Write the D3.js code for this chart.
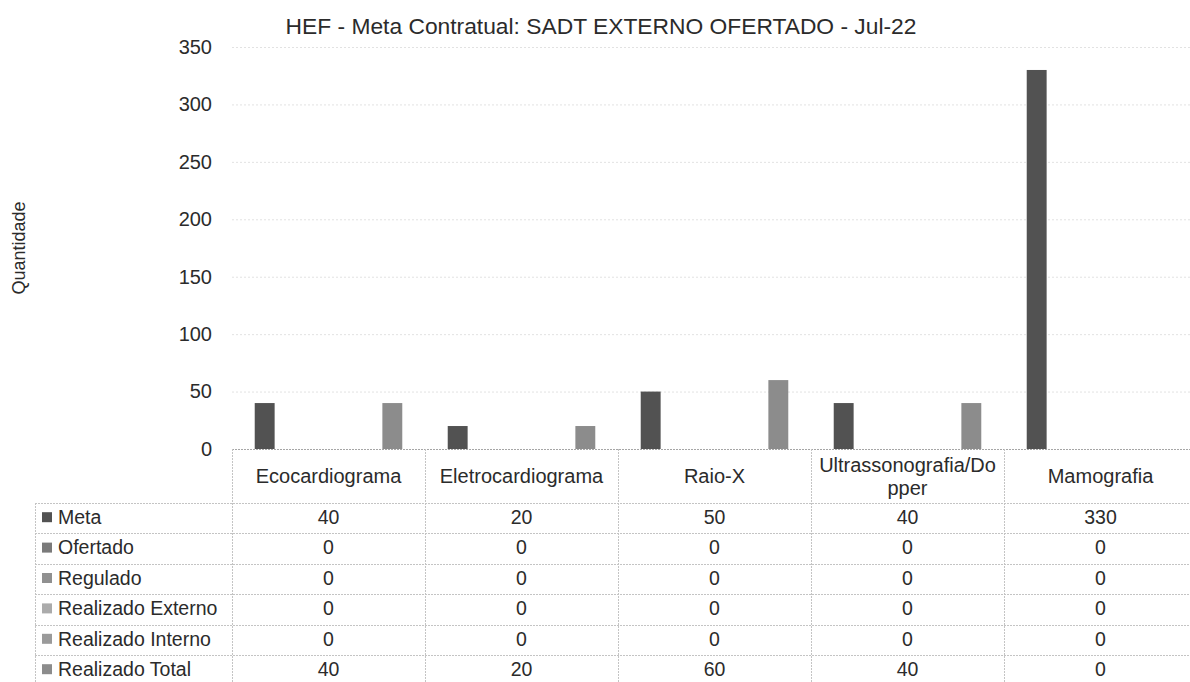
<!DOCTYPE html>
<html>
<head>
  <meta charset="UTF-8" />
  <script src="https://d3js.org/d3.v7.min.js"></script>
  <style>
    body { margin: 0; background: #fff; }
    text { font-family: "Liberation Sans", Arial, sans-serif; fill: #2b2b2b; }
  </style>
</head>
<body>
  <script>
    // chart data
    var categories = ["Ecocardiograma", "Eletrocardiograma", "Raio-X", "Ultrassonografia/Dopper", "Mamografia"];
    var categoryLines = [["Ecocardiograma"], ["Eletrocardiograma"], ["Raio-X"], ["Ultrassonografia/Do", "pper"], ["Mamografia"]];
    var seriesNames = ["Meta", "Ofertado", "Regulado", "Realizado Externo", "Realizado Interno", "Realizado Total"];
    var meta = [40, 20, 50, 40, 330];
    var ofertado = [0, 0, 0, 0, 0];
    var regulado = [0, 0, 0, 0, 0];
    var realizadoExterno = [0, 0, 0, 0, 0];
    var realizadoInterno = [0, 0, 0, 0, 0];
    var realizadoTotal = [40, 20, 60, 40, 0];
    var yTicks = [0, 50, 100, 150, 200, 250, 300, 350];

    var seriesValues = [meta, ofertado, regulado, realizadoExterno, realizadoInterno, realizadoTotal];
    var seriesColors = ["#525252", "#7a7a7a", "#909090", "#ababab", "#9a9a9a", "#8c8c8c"];

    var width = 1190, height = 682;
    var plotLeft = 232, colW = 193, plotTop = 47, baseY = 449;
    var headerH = 54, rowH = 30.4, tableLeft = 35;

    var svg = d3.select("body").append("svg")
      .attr("width", width)
      .attr("height", height);

    var x = d3.scaleBand()
      .domain(categories)
      .range([plotLeft, plotLeft + colW * categories.length]);

    var xs = d3.scaleBand()
      .domain(seriesNames)
      .range([0, colW])
      .paddingInner(0.22)
      .paddingOuter(0.89);

    var y = d3.scaleLinear()
      .domain([0, 350])
      .range([baseY, plotTop]);

    // gridlines (very faint in the scan)
    svg.append("g")
      .selectAll("line")
      .data(yTicks.slice(1))
      .enter().append("line")
      .attr("x1", plotLeft)
      .attr("x2", width)
      .attr("y1", function (d) { return y(d) + 0.5; })
      .attr("y2", function (d) { return y(d) + 0.5; })
      .attr("stroke", "#e2e2e2")
      .attr("stroke-dasharray", "2,2");

    // y axis labels
    var yAxis = d3.axisLeft(y).tickValues(yTicks).tickSize(0).tickPadding(20);
    var gy = svg.append("g")
      .attr("transform", "translate(" + plotLeft + ",0)")
      .call(yAxis);
    gy.select(".domain").remove();
    gy.selectAll("text")
      .style("font-size", "20px")
      .style("font-family", "'Liberation Sans', Arial, sans-serif")
      .attr("fill", "#2b2b2b");

    // bars
    var groups = svg.append("g")
      .selectAll("g")
      .data(categories)
      .enter().append("g")
      .attr("transform", function (d) { return "translate(" + x(d) + ",0)"; });

    groups.selectAll("rect")
      .data(function (d, i) {
        return seriesNames.map(function (s, j) {
          return { s: s, v: seriesValues[j][i], c: seriesColors[j] };
        });
      })
      .enter().append("rect")
      .attr("x", function (d) { return xs(d.s); })
      .attr("width", xs.bandwidth())
      .attr("y", function (d) { return y(d.v); })
      .attr("height", function (d) { return baseY - y(d.v); })
      .attr("fill", function (d) { return d.c; });

    // table borders
    var tableBottom = baseY + headerH + rowH * seriesNames.length;
    var right = plotLeft + colW * categories.length;
    var border = svg.append("g")
      .attr("stroke", "#c4c4c4")
      .attr("stroke-dasharray", "2,1")
      .attr("fill", "none");

    border.append("line")
      .attr("x1", plotLeft).attr("x2", right)
      .attr("y1", baseY + 0.5).attr("y2", baseY + 0.5)
      .attr("stroke", "#a6a6a6");

    for (var r = 0; r <= seriesNames.length; r++) {
      var ry = Math.round(baseY + headerH + r * rowH) + 0.5;
      border.append("line")
        .attr("x1", tableLeft).attr("x2", right)
        .attr("y1", ry).attr("y2", ry);
    }
    border.append("line")
      .attr("x1", tableLeft + 0.5).attr("x2", tableLeft + 0.5)
      .attr("y1", baseY + headerH).attr("y2", tableBottom);
    categories.concat(["end"]).forEach(function (c, i) {
      var vx = plotLeft + i * colW + 0.5;
      border.append("line")
        .attr("x1", vx).attr("x2", vx)
        .attr("y1", baseY).attr("y2", tableBottom);
    });

    // category headers
    var header = svg.append("g");
    categories.forEach(function (c, i) {
      var lines = categoryLines[i];
      var cx = x(c) + x.bandwidth() / 2;
      var cy = baseY + headerH / 2;
      lines.forEach(function (t, k) {
        header.append("text")
          .attr("x", cx)
          .attr("y", cy + (k - (lines.length - 1) / 2) * 23)
          .attr("dy", "0.35em")
          .attr("text-anchor", "middle")
          .style("font-size", "20px")
          .text(t);
      });
    });

    // rows
    var rows = svg.append("g")
      .selectAll("g")
      .data(seriesNames)
      .enter().append("g")
      .attr("transform", function (d, i) {
        return "translate(0," + (baseY + headerH + i * rowH + rowH / 2 - 1) + ")";
      });

    rows.append("rect")
      .attr("x", 42)
      .attr("y", -5)
      .attr("width", 10)
      .attr("height", 10)
      .attr("fill", function (d, i) { return seriesColors[i]; });

    rows.append("text")
      .attr("x", 58)
      .attr("dy", "0.35em")
      .style("font-size", "19.5px")
      .text(function (d) { return d; });

    rows.each(function (s, j) {
      d3.select(this).selectAll("text.val")
        .data(seriesValues[j])
        .enter().append("text")
        .attr("class", "val")
        .attr("x", function (d, i) { return x(categories[i]) + x.bandwidth() / 2; })
        .attr("dy", "0.35em")
        .attr("text-anchor", "middle")
        .style("font-size", "19.5px")
        .text(function (d) { return d; });
    });

    // title
    svg.append("text")
      .attr("x", 601)
      .attr("y", 34)
      .attr("text-anchor", "middle")
      .style("font-size", "22.8px")
      .text("HEF - Meta Contratual: SADT EXTERNO OFERTADO - Jul-22");

    // y axis title
    svg.append("text")
      .attr("transform", "translate(25," + ((plotTop + baseY) / 2) + ") rotate(-90)")
      .attr("text-anchor", "middle")
      .style("font-size", "18px")
      .text("Quantidade");
  </script>
</body>
</html>
